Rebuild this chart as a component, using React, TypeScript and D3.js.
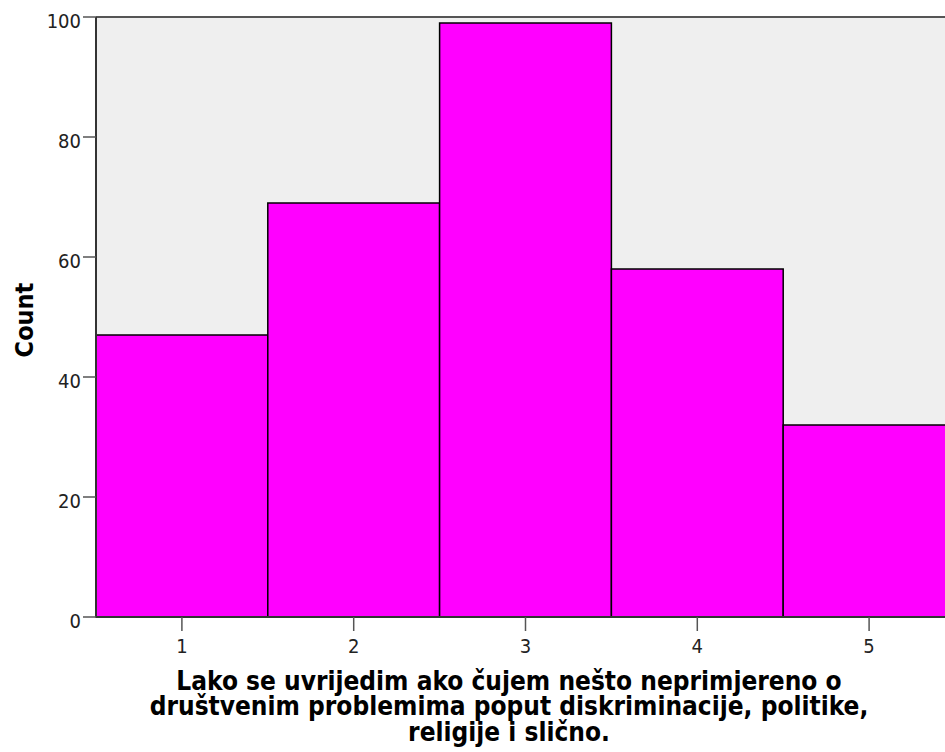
import React from "react";
import * as d3 from "d3";

const categories = [1, 2, 3, 4, 5];
const counts = [47, 69, 99, 58, 32];
const yTicks = [0, 20, 40, 60, 80, 100];
const titleLines = [
  "Lako se uvrijedim ako čujem nešto neprimjereno o",
  "društvenim problemima poput diskriminacije, politike,",
  "religije i slično.",
];

export default function App() {
  const W = 945, H = 752;
  const left = 96, right = 955, top = 17, bottom = 617;
  const x = d3.scaleLinear().domain([0.5, 5.5]).range([left, right]);
  const y = d3.scaleLinear().domain([0, 100]).range([bottom, top]);
  const font = "'DejaVu Sans Condensed', 'DejaVu Sans', sans-serif";
  return (
    <svg width={W} height={H} style={{ position: "absolute", left: 0, top: 0 }}>
      <rect x={left} y={top} width={right - left} height={bottom - top} fill="#efefef" />
      {categories.map((c, i) => (
        <rect key={c} x={x(c - 0.5)} y={y(counts[i])} width={x(c + 0.5) - x(c - 0.5)}
          height={y(0) - y(counts[i])} fill="#ff00ff" stroke="#000" strokeWidth={1.5} />
      ))}
      <line x1={left} x2={right} y1={top} y2={top} stroke="#555" strokeWidth={2} />
      <line x1={left} x2={left} y1={top} y2={bottom} stroke="#333" strokeWidth={2} />
      <line x1={left} x2={right} y1={bottom} y2={bottom} stroke="#333" strokeWidth={2} />
      {yTicks.map((t) => (
        <g key={t}>
          <line x1={left - 13} x2={left} y1={y(t)} y2={y(t)} stroke="#555" strokeWidth={1.5} />
          <text x={left - 15} y={y(t) + 11} textAnchor="end" fontFamily={font} fontStretch="condensed" fontSize={20} fill="#222">{t}</text>
        </g>
      ))}
      {categories.map((c) => (
        <g key={c}>
          <line x1={x(c)} x2={x(c)} y1={bottom} y2={bottom + 14} stroke="#555" strokeWidth={1.5} />
          <text x={x(c)} y={bottom + 36} textAnchor="middle" fontFamily={font} fontStretch="condensed" fontSize={20} fill="#222">{c}</text>
        </g>
      ))}
      <text transform={`translate(33,320) rotate(-90)`} textAnchor="middle"
        fontFamily={font} fontStretch="condensed" fontWeight="bold" fontSize={25} fill="#000">Count</text>
      {titleLines.map((l, i) => (
        <text key={i} x={509} y={689.5 + i * 25.5} textAnchor="middle" fontFamily={font} fontStretch="condensed" fontWeight="bold"
          fontSize={26} fill="#000">{l}</text>
      ))}
    </svg>
  );
}
